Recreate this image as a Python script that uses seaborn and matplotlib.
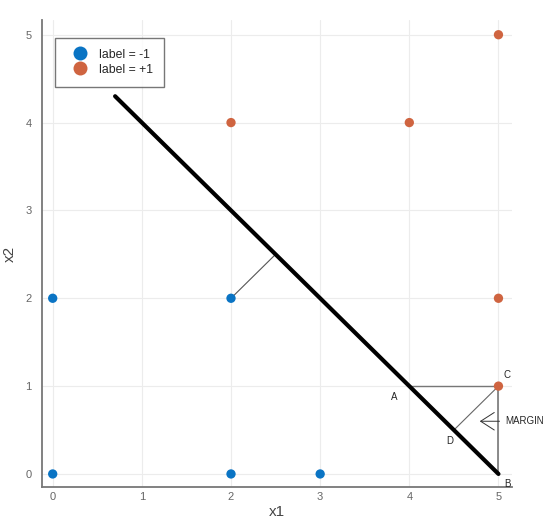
import numpy as np
import pandas as pd
import seaborn as sns
import matplotlib.pyplot as plt

# data points
x1_neg = [0, 0, 2, 2, 3]
x2_neg = [0, 2, 0, 2, 0]
x1_pos = [2, 4, 5, 5, 5]
x2_pos = [4, 4, 5, 2, 1]

# separating line x1 + x2 = 5
line_x1 = [0.7, 5.0]
line_x2 = [4.3, 0.0]

# helper segments
perp_x1 = [2, 2.5]
perp_x2 = [2, 2.5]
cd_x1 = [5, 4.5]
cd_x2 = [1, 0.5]
ca_x1 = [4, 5]
ca_x2 = [1, 1]
cb_x1 = [5, 5]
cb_x2 = [1, 0]

df = pd.DataFrame({
    "x1": x1_neg + x1_pos,
    "x2": x2_neg + x2_pos,
    "label": ["label = -1"] * len(x1_neg) + ["label = +1"] * len(x1_pos),
})

sns.set_style("white")
plt.rcParams['font.family'] = ['Liberation Sans', 'DejaVu Sans']

fig = plt.figure(figsize=(5.6, 5.21), dpi=100)
ax = fig.add_axes([0.075, 0.065, 0.839, 0.897])

ax.grid(True, color="#ececec", linewidth=0.8)
ax.set_axisbelow(True)

# lines
ax.plot(line_x1, line_x2, color="black", linewidth=3, zorder=3)
ax.plot(perp_x1, perp_x2, color="#555555", linewidth=0.8, zorder=2)
ax.plot(cd_x1, cd_x2, color="#666666", linewidth=0.8, zorder=2)
ax.plot(ca_x1, ca_x2, color="#777777", linewidth=1.0, zorder=2)
ax.plot(cb_x1, cb_x2, color="#777777", linewidth=1.2, zorder=2)

sns.scatterplot(data=df, x="x1", y="x2", hue="label",
                palette={"label = -1": "#0a74c4", "label = +1": "#cf6440"},
                s=45, edgecolor="none", ax=ax, zorder=4)

# annotations
ax.text(3.83, 0.88, "A", fontsize=7, ha="center", va="center")
ax.text(5.1, 1.13, "C", fontsize=7, ha="center", va="center")
ax.text(4.45, 0.37, "D", fontsize=7, ha="center", va="center")
ax.text(5.1, -0.12, "B", fontsize=7, ha="center", va="center")
ax.annotate("MARGIN", xy=(4.79, 0.6), xytext=(5.08, 0.6), fontsize=7,
            va="center", ha="left",
            arrowprops=dict(arrowstyle="->,head_length=1.4,head_width=0.9",
                            color="#333333", linewidth=0.7,
                            shrinkA=2, shrinkB=0))

ax.set_xlim(-0.12, 5.15)
ax.set_ylim(-0.15, 5.17)
ax.set_xticks(range(6))
ax.set_yticks(range(6))
ax.tick_params(axis="both", labelsize=8, labelcolor="#666666", colors="#555555",
               direction="in", length=4, width=0.8)
ax.tick_params(axis="y", direction="out")
for side in ["top", "right"]:
    ax.spines[side].set_visible(False)
for side in ["left", "bottom"]:
    ax.spines[side].set_color("#777777")
    ax.spines[side].set_linewidth(1.3)

ax.set_xlabel("x1", fontsize=11, color="#444444", labelpad=2)
ax.set_ylabel("x2", fontsize=11, color="#444444", labelpad=6)

leg = ax.legend(loc="upper left", bbox_to_anchor=(0.028, 0.962), fontsize=8.8,
                frameon=True, fancybox=False, edgecolor="#555555",
                borderpad=0.9, handletextpad=0.4, markerscale=1.5,
                labelspacing=0.25, borderaxespad=0, handlelength=2.3)
leg.get_frame().set_linewidth(1.0)

fig.savefig("out.png", dpi=100)
